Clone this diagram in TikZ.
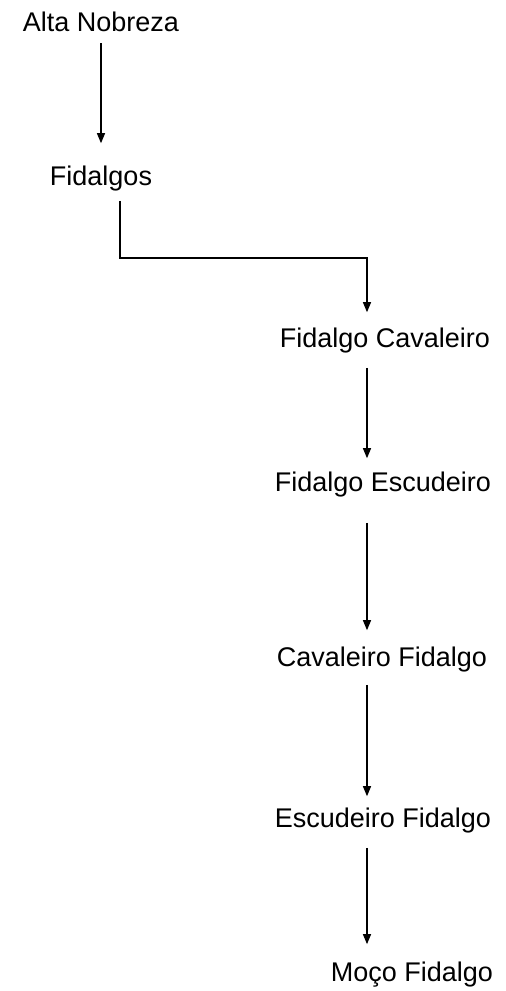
\documentclass[tikz,border=0pt]{standalone}
\usepackage{fontspec}
\setmainfont{Liberation Sans}
\usetikzlibrary{arrows.meta,positioning}

\tikzset{
	rank/.style={inner sep=9pt, font=\fontsize{27}{32}\selectfont},
	link/.style={line width=1.2pt, -{Triangle[length=10pt,width=8pt]}}
}

\begin{document}
\begin{tikzpicture}[x=1pt, y=-1pt]
	\useasboundingbox (0,0) rectangle (506,991);
	
	\node (alta) at (101, 22) [rank] {Alta Nobreza};
	\node (fid) at (101, 179) [rank] {Fidalgos};
	\node (fcav) at (385, 341) [rank] {Fidalgo Cavaleiro};
	\node (fesc) at (383, 485) [rank] {Fidalgo Escudeiro};
	\node (cavf) at (382, 660) [rank] {Cavaleiro Fidalgo};
	\node (escf) at (383, 821) [rank] {Escudeiro Fidalgo};
	\node (moco) at (412, 975) [rank] {Moço Fidalgo};
	
	\coordinate (axis) at (367, 0);
	\coordinate (bend) at (0, 258);
	
	\draw[link, shorten <=2pt, shorten >=14pt] (alta) -- (fid);
	\draw[link, shorten >=7pt] ([xshift=19pt]fid.south) |- (bend -| axis) -- (fcav.north -| axis);
	
	\draw[link, shorten <=5pt, shorten >=5pt] (fcav.south -| axis) -- (fesc.north -| axis);
	\draw[link, shorten <=16pt, shorten >=8pt] (fesc.south -| axis) -- (cavf.north -| axis);
	\draw[link, shorten <=3pt, shorten >=3pt] (cavf.south -| axis) -- (escf.north -| axis);
	\draw[link, shorten <=5pt, shorten >=9pt] (escf.south -| axis) -- (moco.north -| axis);
	
\end{tikzpicture}
\end{document}
